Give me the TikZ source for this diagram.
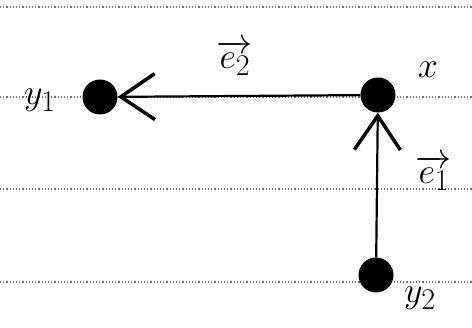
\documentclass[tikz,border=0pt]{standalone}
\usepackage{amsmath}
\usepackage{tikz}
\usetikzlibrary{arrows.meta, positioning}
\definecolor{rule}{RGB}{110,110,110}

\begin{document}
\begin{tikzpicture}[x=1pt, y=-1pt,
    pt/.style={circle, fill=black, inner sep=0pt, minimum width=32pt, minimum height=35pt},
    lbl/.style={font=\Huge, scale=1.45},
    vec/.style={line width=2.2pt, -{Straight Barb[length=34pt, width=46pt, line width=3.5pt]}}]
  \useasboundingbox (0,0) rectangle (472,328);

  % ruled paper lines
  \foreach \ly in {7, 97, 189, 282}
    \draw[rule, dotted, line width=1.2pt] (0,\ly) -- (472,\ly);

  % points
  \node[pt] (y1) at (100, 97) {};
  \node[pt] (x) at (378, 95) {};
  \node[pt] (y2) at (376, 275) {};

  % labels
  \node[lbl] (ly1) at (40, 100) {$y_1$};
  \node[lbl] (lx) at (428, 70) {$x$};
  \node[lbl] (ly2) at (420, 298) {$y_2$};
  \node[lbl] (le2) at (235, 58) {$\overrightarrow{e_2}$};
  \node[lbl] (le1) at (434, 173) {$\overrightarrow{e_1}$};

  % vectors
  \draw[vec] (x) -- (y1);
  \draw[vec] (y2) -- (x);
\end{tikzpicture}
\end{document}
